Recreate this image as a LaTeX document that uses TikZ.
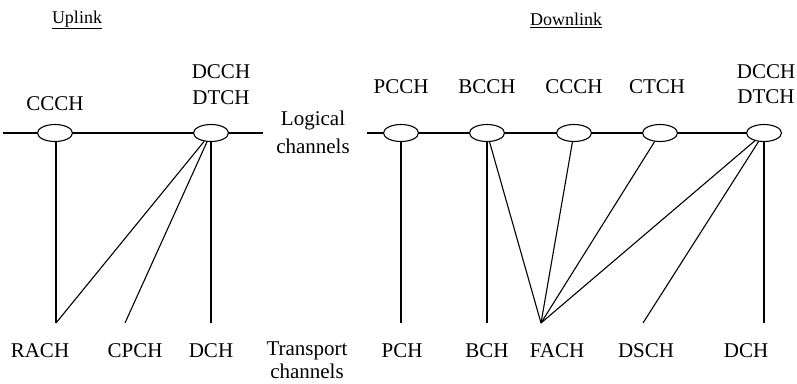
\documentclass[tikz,border=0pt]{standalone}
\usepackage{fontspec}
\setmainfont{Liberation Serif}
\usetikzlibrary{shapes.geometric}
\begin{document}
\begin{tikzpicture}[x=1pt,y=-1pt,
  every node/.style={font=\fontsize{21}{25}\selectfont, inner sep=0pt},
  title/.style={font=\fontsize{18}{22}\selectfont},
  chan/.style={draw, ellipse, line width=1.1pt, minimum width=35pt, minimum height=17pt, inner sep=0pt},
  link/.style={line width=1.1pt}]
\useasboundingbox (0,0) rectangle (797,383);
% titles
\node[title] (ul) at (77,20) {\underline{Uplink}};
\node[title] (dl) at (566,20) {\underline{Downlink}};
% uplink logical
\coordinate (ulstart) at (3,133);
\coordinate (ulend) at (263,133);
\node[chan] (uccch) at (55,133) {};
\node[chan] (udtch) at (211,133) {};
\node (luccch) at (55,104) {CCCH};
\node (ludcch) at (221,72) {DCCH};
\node (ludtch) at (221,98) {DTCH};
\draw[link] (ulstart) -- (uccch) -- (udtch) -- (ulend);
% logical label
\node (log1) at (313,120) {Logical};
\node (log2) at (313,146) {channels};
% downlink logical
\coordinate (dlstart) at (367,133);
\node[chan] (dpcch) at (401,133) {};
\node[chan] (dbcch) at (487,133) {};
\node[chan] (dccch) at (574,133) {};
\node[chan] (dctch) at (660,133) {};
\node[chan] (ddtch) at (764,133) {};
\node (ldpcch) at (401,87) {PCCH};
\node (ldbcch) at (487,87) {BCCH};
\node (ldccch) at (574,87) {CCCH};
\node (ldctch) at (657,87) {CTCH};
\node (lddcch) at (766,72) {DCCH};
\node (lddtch) at (766,97) {DTCH};
\draw[link] (dlstart) -- (dpcch) -- (dbcch) -- (dccch) -- (dctch) -- (ddtch);
% transport endpoints
\coordinate (rach) at (56,323);
\coordinate (cpch) at (125,323);
\coordinate (udch) at (211,323);
\coordinate (pch) at (401,323);
\coordinate (bch) at (487,323);
\coordinate (fach) at (541,323);
\coordinate (dsch) at (643,323);
\coordinate (ddch) at (764,323);
% uplink mapping
\draw[link] (uccch.south -| rach) -- (rach);
\draw[link] (udtch) -- (rach);
\draw[link] (udtch) -- (cpch);
\draw[link] (udtch.south) -- (udch);
% downlink mapping
\draw[link] (dpcch.south) -- (pch);
\draw[link] (dbcch.south) -- (bch);
\draw[link] (dbcch) -- (fach);
\draw[link] (dccch) -- (fach);
\draw[link] (dctch) -- (fach);
\draw[link] (ddtch) -- (fach);
\draw[link] (ddtch) -- (dsch);
\draw[link] (ddtch.south) -- (ddch);
% transport labels
\node (lrach) at (40,351) {RACH};
\node (lcpch) at (135,351) {CPCH};
\node (ludch) at (211,351) {DCH};
\node (tr1) at (307,351) {Transport};
\node (tr2) at (307,371) {channels};
\node (lpch) at (402,351) {PCH};
\node (lbch) at (487,351) {BCH};
\node (lfach) at (557,351) {FACH};
\node (ldsch) at (646,351) {DSCH};
\node (lddch) at (746,351) {DCH};
\end{tikzpicture}
\end{document}
